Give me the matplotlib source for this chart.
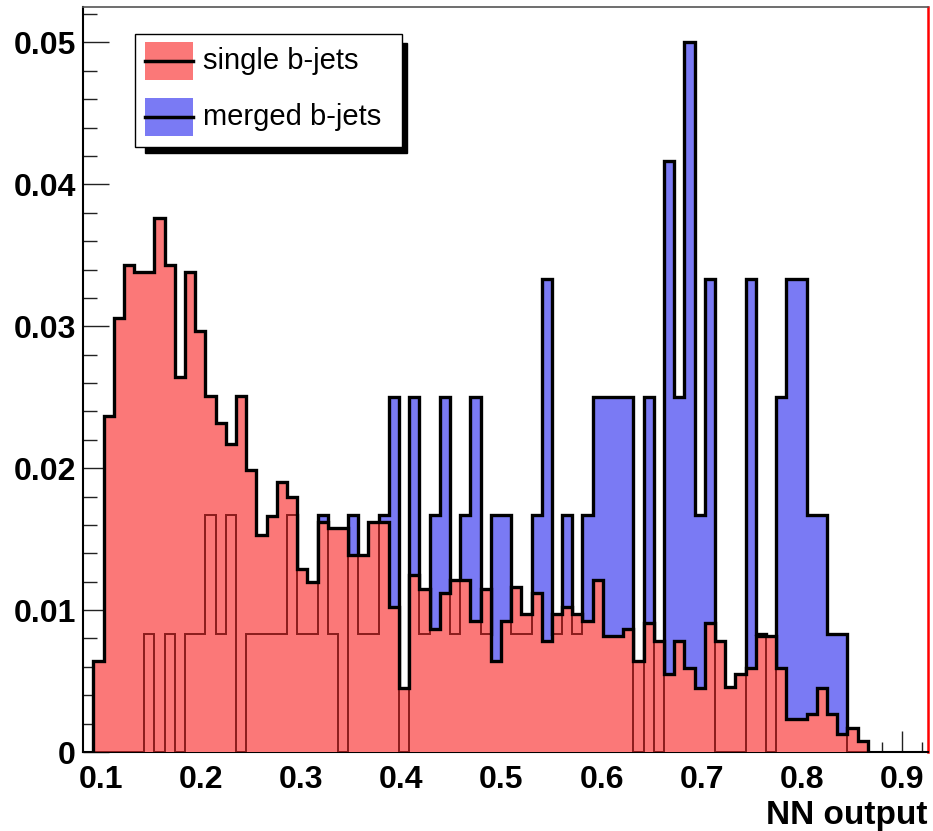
import numpy as np
import matplotlib
matplotlib.use("Agg")
import matplotlib.pyplot as plt
from matplotlib.patches import Rectangle
from matplotlib.lines import Line2D
from matplotlib.ticker import FixedLocator, MultipleLocator

plt.rcParams["font.family"] = ["Liberation Sans", "DejaVu Sans"]

# binning of the NN output histograms
bin_start = 0.0923
bin_width = 0.01018
n_bins = 76

# single b-jets, normalised bin contents
single_bjets = [
    0.0064, 0.0237, 0.0306, 0.0343, 0.0338, 0.0338, 0.0376, 0.0343, 0.0264, 0.0338,
    0.0297, 0.0251, 0.0232, 0.0217, 0.0251, 0.0199, 0.0153, 0.0166, 0.0190, 0.0180,
    0.0129, 0.0120, 0.0162, 0.0158, 0.0158, 0.0139, 0.0139, 0.0162, 0.0162, 0.0102,
    0.0045, 0.0125, 0.0115, 0.0087, 0.0112, 0.0121, 0.0121, 0.0092, 0.0115, 0.0064,
    0.0092, 0.0116, 0.0097, 0.0112, 0.0078, 0.0097, 0.0102, 0.0097, 0.0092, 0.0121,
    0.0082, 0.0082, 0.0087, 0.0064, 0.0091, 0.0078, 0.0055, 0.0078, 0.0059, 0.0045,
    0.0091, 0.0078, 0.0046, 0.0055, 0.0059, 0.0082, 0.0082, 0.0059, 0.0023, 0.0023,
    0.0027, 0.0045, 0.0027, 0.0013, 0.0017, 0.0008,
]

# merged b-jets, entries per bin (120 entries, normalised below)
merged_counts = [
    0, 0, 0, 0, 0, 1, 0, 1, 0, 1,
    1, 2, 1, 2, 0, 1, 1, 1, 1, 2,
    1, 1, 2, 1, 0, 2, 1, 1, 2, 3,
    0, 3, 1, 2, 3, 1, 2, 3, 1, 2,
    2, 1, 1, 2, 4, 1, 2, 1, 2, 3,
    3, 3, 3, 0, 3, 0, 5, 3, 6, 2,
    4, 0, 0, 0, 4, 1, 0, 3, 4, 4,
    2, 2, 1, 1, 0, 0,
]
merged_total = 120

y_ticks = [0, 0.01, 0.02, 0.03, 0.04, 0.05]
y_ticklabels = ["0", "0.01", "0.02", "0.03", "0.04", "0.05"]
x_ticks = [0.1, 0.2, 0.3, 0.4, 0.5, 0.6, 0.7, 0.8, 0.9]
x_ticklabels = ["0.1", "0.2", "0.3", "0.4", "0.5", "0.6", "0.7", "0.8", "0.9"]

edges = bin_start + bin_width * np.arange(n_bins + 1)
single = np.array(single_bjets)
merged = np.array(merged_counts) / merged_total

red_fill = "#fb7878"
blue_fill = "#7a7af4"

fig = plt.figure(figsize=(9.33, 8.31), dpi=100)
ax = fig.add_axes([83 / 933, 1 - 752 / 831, 845 / 933, 745 / 831])

# merged b-jets behind
ax.stairs(merged, edges, fill=True, color=blue_fill, lw=0, zorder=1)
ax.stairs(merged, edges, color="black", lw=2.4, zorder=2)
# single b-jets on top, the merged outline shows through as dark red
red_patch = ax.stairs(single, edges, fill=True, color=red_fill, lw=0, zorder=3)
through = ax.stairs(merged, edges, color="#8a1c1c", lw=1.4, zorder=4)
through.set_clip_path(red_patch)
ax.stairs(single, edges, color="black", lw=2.4, zorder=5)

ax.set_xlim(0.0820, 0.9261)
ax.set_ylim(0, 0.0525)

ax.yaxis.set_major_locator(FixedLocator(y_ticks))
ax.set_yticklabels(y_ticklabels)
ax.yaxis.set_minor_locator(MultipleLocator(0.002))
ax.xaxis.set_major_locator(FixedLocator(x_ticks))
ax.set_xticklabels(x_ticklabels)
ax.xaxis.set_minor_locator(MultipleLocator(0.02))

ax.tick_params(axis="y", which="major", direction="in", length=19, width=1.0,
               color="#222222", pad=5, labelsize=23)
ax.tick_params(axis="y", which="minor", direction="in", length=10, width=1.0,
               color="#222222")
ax.tick_params(axis="x", which="major", direction="in", length=15, width=1.0,
               color="#222222", pad=9, labelsize=23)
ax.tick_params(axis="x", which="minor", direction="in", length=7, width=1.0,
               color="#222222")
for lab in ax.get_xticklabels() + ax.get_yticklabels():
    lab.set_fontweight("bold")

ax.spines["left"].set_linewidth(1.5)
ax.spines["bottom"].set_linewidth(1.5)
ax.spines["top"].set_linewidth(1.2)
ax.spines["top"].set_color("#555555")
ax.spines["right"].set_linewidth(1.8)
ax.spines["right"].set_color("red")

ax.text(1.0, -0.0846, "NN output", transform=ax.transAxes, ha="right",
        va="center", fontsize=24, fontweight="bold")

# ROOT style legend box with shadow
leg = fig.add_axes([135 / 933, 1 - 147 / 831, 267 / 933, 113 / 831], zorder=5)
leg.set_xlim(0, 1)
leg.set_ylim(0, 1)
leg.set_axis_off()
leg.add_patch(Rectangle((0.0375, -0.053), 0.981, 0.973, color="black",
                        clip_on=False, zorder=1))
leg.add_patch(Rectangle((0, 0), 1, 1, facecolor="white", edgecolor="black",
                        lw=1.0, clip_on=False, zorder=2))

entries = [("single b-jets", red_fill, 0.593, 0.761),
           ("merged b-jets", blue_fill, 0.097, 0.265)]
for label, col, y0, yline in entries:
    leg.add_patch(Rectangle((0.037, y0), 0.18, 0.34, facecolor=col, lw=0, zorder=3))
    leg.add_line(Line2D([0.037, 0.217], [yline, yline], color="black", lw=2.5, zorder=4))
    leg.text(0.255, yline, label, va="center", ha="left", fontsize=21, zorder=5)

fig.savefig("out.png", dpi=100)
